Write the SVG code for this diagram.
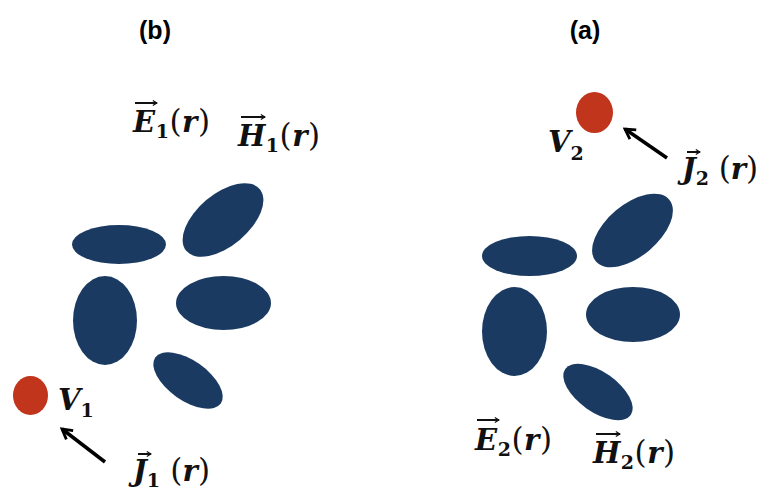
<svg xmlns="http://www.w3.org/2000/svg" width="759" height="494" viewBox="0 0 759 494">
<defs>
<style>
.blob{fill:#1a3a62}
.src{fill:#c0351b}
.lab{font-family:"Liberation Sans",Arial,sans-serif;font-weight:bold;font-size:25px;fill:#000}
.m{font-family:"DejaVu Serif","Liberation Serif",serif;font-weight:bold;font-style:italic;font-size:29px;fill:#111}
.sub{font-size:19px;font-style:normal}
.par{font-style:normal;font-weight:normal;font-size:31px}
.vec{stroke:#111;stroke-width:2;fill:none}
.arr{stroke:#000;stroke-width:3.5;fill:none}
</style>
<marker id="ah" viewBox="0 0 10 10" refX="8" refY="5" markerWidth="4" markerHeight="4" orient="auto" markerUnits="strokeWidth">
<path d="M1,1 L8,5 L1,9" fill="none" stroke="#000" stroke-width="2"/>
</marker>
<marker id="vh" viewBox="0 0 10 10" refX="9" refY="5" markerWidth="3" markerHeight="3" orient="auto" markerUnits="strokeWidth">
<path d="M2,1 L9,5 L2,9" fill="none" stroke="#111" stroke-width="2"/>
</marker>
</defs>
<rect width="759" height="494" fill="#fff"/>

<g id="title-b"><text class="lab" x="155" y="39" text-anchor="middle">(b)</text></g>
<g id="title-a"><text class="lab" x="585" y="39" text-anchor="middle">(a)</text></g>

<g id="scatterers-b">
<ellipse class="blob" cx="119" cy="244.5" rx="47" ry="19.5"/>
<ellipse class="blob" cx="0" cy="0" rx="48" ry="26" transform="translate(223,220) rotate(-40)"/>
<ellipse class="blob" cx="105" cy="320.5" rx="32" ry="44.5"/>
<ellipse class="blob" cx="223.5" cy="303" rx="47.5" ry="27"/>
<ellipse class="blob" cx="0" cy="0" rx="40" ry="20" transform="translate(188,380.5) rotate(35)"/>
</g>

<g id="scatterers-a">
<ellipse class="blob" cx="529.5" cy="256" rx="47.5" ry="20"/>
<ellipse class="blob" cx="0" cy="0" rx="48" ry="26" transform="translate(632.5,230.5) rotate(-40)"/>
<ellipse class="blob" cx="514.5" cy="331.5" rx="32.5" ry="44.5"/>
<ellipse class="blob" cx="633" cy="314.5" rx="47" ry="27.5"/>
<ellipse class="blob" cx="0" cy="0" rx="40" ry="20" transform="translate(598,392) rotate(35)"/>
</g>

<g id="source-V1"><ellipse class="src" cx="30.5" cy="395.5" rx="17.5" ry="19.5"/></g>
<g id="source-V2"><ellipse class="src" cx="594.5" cy="112.5" rx="18.5" ry="20.5"/></g>

<g id="connectors">
<line class="arr" x1="105" y1="462" x2="62" y2="429" marker-end="url(#ah)"/>
<line class="arr" x1="667" y1="158" x2="625" y2="129" marker-end="url(#ah)"/>
</g>

<g id="label-E1">
<text class="m" x="133" y="132" textLength="77" lengthAdjust="spacing">E<tspan class="sub" dy="6">1</tspan><tspan class="par" dy="-6">(</tspan>r<tspan class="par">)</tspan></text>
<line class="vec" x1="135" y1="103" x2="157" y2="103" marker-end="url(#vh)"/>
</g>
<g id="label-H1">
<text class="m" x="238" y="146" textLength="82" lengthAdjust="spacing">H<tspan class="sub" dy="6">1</tspan><tspan class="par" dy="-6">(</tspan>r<tspan class="par">)</tspan></text>
<line class="vec" x1="241" y1="117" x2="265" y2="117" marker-end="url(#vh)"/>
</g>
<g id="label-V1">
<text class="m" x="58" y="410">V<tspan class="sub" dy="7">1</tspan></text>
</g>
<g id="label-J1">
<text class="m" x="133" y="481" textLength="77" lengthAdjust="spacing">J<tspan class="sub" dy="6">1</tspan><tspan class="par" dy="-6"> (</tspan>r<tspan class="par">)</tspan></text>
<line class="vec" x1="138" y1="454" x2="151" y2="454" marker-end="url(#vh)"/>
</g>
<g id="label-V2">
<text class="m" x="548" y="152">V<tspan class="sub" dy="8">2</tspan></text>
</g>
<g id="label-J2">
<text class="m" x="682" y="179" textLength="76" lengthAdjust="spacing">J<tspan class="sub" dy="6">2</tspan><tspan class="par" dy="-6"> (</tspan>r<tspan class="par">)</tspan></text>
<line class="vec" x1="687" y1="152" x2="700" y2="152" marker-end="url(#vh)"/>
</g>
<g id="label-E2">
<text class="m" x="475" y="450" textLength="77" lengthAdjust="spacing">E<tspan class="sub" dy="6">2</tspan><tspan class="par" dy="-6">(</tspan>r<tspan class="par">)</tspan></text>
<line class="vec" x1="477" y1="420" x2="499" y2="420" marker-end="url(#vh)"/>
</g>
<g id="label-H2">
<text class="m" x="593" y="463" textLength="82" lengthAdjust="spacing">H<tspan class="sub" dy="6">2</tspan><tspan class="par" dy="-6">(</tspan>r<tspan class="par">)</tspan></text>
<line class="vec" x1="596" y1="434" x2="620" y2="434" marker-end="url(#vh)"/>
</g>
</svg>
